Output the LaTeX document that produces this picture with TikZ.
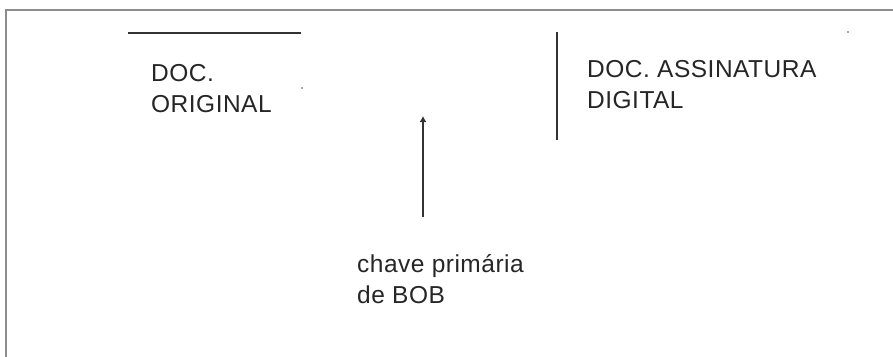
\documentclass[tikz,border=0pt]{standalone}
\usepackage{fontspec}
\setmainfont{Liberation Sans}[LetterSpace=2]
\usetikzlibrary{arrows.meta}
\begin{document}
\begin{tikzpicture}[x=1pt,y=-1pt,
  lbl/.style={inner sep=0pt,anchor=base west,align=left,font=\fontsize{24.5}{31}\selectfont,text=black!85},
  rule/.style={line width=1.3pt,draw=black!80},
  frame/.style={line width=2.2pt,draw=black!45}]
\useasboundingbox (0,0) rectangle (893,356);
\fill[white] (0,0) rectangle (893,356);
\draw[frame] (6,357) -- (6,10) -- (894,10);
% text blocks (base = baseline of last line)
\node[lbl] (orig) at (151,112) {DOC.\\ORIGINAL};
\node[lbl] (assin) at (587,108) {DOC. ASSINATURA\\DIGITAL};
\node[lbl] (chave) at (357,303) {chave primária\\de BOB};
% rules
\coordinate (h1) at (128,33);
\coordinate (h2) at (301,33);
\draw[rule] (h1) -- (h2);
\coordinate (v1) at (557,32);
\coordinate (v2) at (557,140);
\draw[rule] (v1) -- (v2);
% arrow
\coordinate (a1) at (423,217);
\coordinate (a2) at (423,116);
\draw[rule,-{Latex[length=6pt,width=7pt]}] (a1) -- (a2);
% stray dots
\fill[black!70] (302,88) circle (0.9pt);
\fill[black!70] (848,32) circle (0.9pt);
\end{tikzpicture}
\end{document}
